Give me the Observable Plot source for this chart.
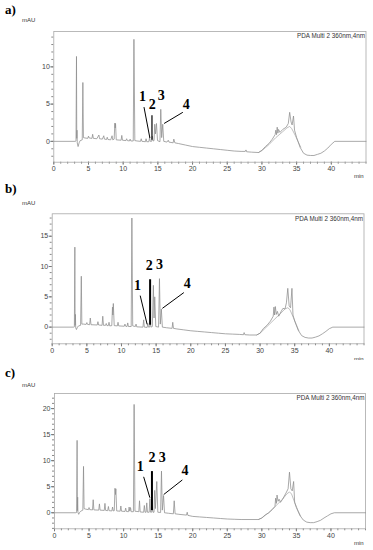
<!DOCTYPE html>
<html>
<head>
<meta charset="utf-8">
<script src="https://cdn.jsdelivr.net/npm/d3@7"></script>
<script src="https://cdn.jsdelivr.net/npm/@observablehq/plot@0.6"></script>
<style>
  html, body { margin: 0; padding: 0; background: #fff; }
  #wrap { position: relative; width: 373px; height: 550px; overflow: hidden; font-family: "Liberation Sans", Arial, sans-serif; }
  .panel { position: absolute; left: 0; width: 373px; }
  .tag { position: absolute; font-family: "Liberation Serif", "DejaVu Serif", serif; font-weight: bold; font-size: 13px; line-height: 1; color: #000; }
  .unit { position: absolute; font-size: 6px; line-height: 1; color: #333; }
</style>
</head>
<body>
<div id="wrap"></div>
<script>
// ---- data: [time (min), signal (mAU)] ----
const traceA = [[0,0],[3.1,0],[3.2,0.05],[3.27,11.4],[3.31,0.4],[3.34,1.5],[3.38,-0.2],[3.5,-0.7],[3.65,-0.2],[3.8,0.1],[4.1,0.2],[4.19,7.9],[4.27,0.5],[4.5,0.45],
[4.9,0.4],[5.0,0.7],[5.1,0.45],[5.5,0.4],[5.6,0.95],[5.7,0.4],[6.2,0.35],[6.5,0.85],[6.6,0.35],[7.0,0.3],[7.2,0.75],[7.3,0.3],[7.6,0.25],[7.7,0.55],[7.8,0.25],[8.2,0.2],[8.4,0.75],[8.5,0.2],[8.7,0.3],[8.8,2.45],[8.85,1.8],[8.9,2.4],[9.0,0.2],[9.7,0.15],[9.8,0.8],[9.9,0.15],[10.4,0.1],[10.5,0.35],[10.6,0.1],[10.9,0.05],[11.0,0.3],[11.1,0.05],[11.45,0.05],[11.55,13.7],[11.68,0.1],[12.0,0.05],[12.5,0.0],[12.6,0.35],[12.7,0.0],[13.2,-0.05],[13.3,0.35],[13.4,-0.05],[13.7,-0.05],[13.8,0.5],[13.9,0],[14.1,0],[14.2,0.7],[14.3,0.05],[14.45,0.1],[14.55,2.3],[14.65,1.0],[14.8,2.4],[14.95,0.1],[15.3,-0.05],[15.42,4.3],[15.55,0.5],[15.7,2.3],[15.85,0.0],[16.3,-0.1],[16.5,0.15],[16.6,-0.1],[17.2,-0.2],[17.3,0.3],[17.45,-0.2],[18,-0.3],[19,-0.5],[20,-0.7],[21,-0.8],[22,-0.9],[23,-1.0],[24,-1.1],[25,-1.2],[26,-1.3],[27,-1.35],[27.6,-1.35],[27.7,-1.15],[27.8,-1.4],[28.5,-1.45],[29.5,-1.5],[30,-1.2],[30.5,-0.7],[31,-0.3],[31.5,0.3],[31.9,0.9],[32.0,1.5],[32.1,0.9],[32.2,1.9],[32.3,1.1],[32.4,1.6],[32.6,1.2],[33,1.6],[33.5,1.9],[33.8,2.4],[34.0,3.9],[34.2,2.6],[34.35,2.2],[34.55,3.4],[34.7,1.5],[35,0.5],[35.5,-0.8],[36,-1.6],[36.5,-1.85],[37,-1.9],[37.5,-1.9],[38,-1.75],[38.5,-1.6],[39,-1.3],[39.5,-0.9],[40,-0.4],[40.5,0],[45,0]];
const blankA = [[29.5,-1.5],[30,-1.25],[31,-0.45],[32,0.5],[33,1.3],[33.6,1.8],[34.0,2.0],[34.3,1.7],[34.8,0.8],[35.2,0.0],[35.6,-0.8]];

const traceB = [[0,0],[3.1,0],[3.2,0.05],[3.27,13.2],[3.31,0.3],[3.35,2.1],[3.39,-0.1],[3.5,-0.4],[3.65,0],[3.8,0.2],[4.1,0.3],[4.2,8.4],[4.28,0.5],[4.5,0.5],[4.9,0.45],[5.0,0.75],[5.1,0.45],[5.4,0.4],[5.5,1.5],[5.6,0.4],[6.5,0.35],[6.6,0.9],[6.7,0.35],[7.2,0.3],[7.3,1.8],[7.4,0.3],[7.7,0.3],[7.8,0.6],[7.9,0.25],[8.1,0.25],[8.2,0.8],[8.3,0.2],[8.6,0.25],[8.7,3.3],[8.75,2.0],[8.82,3.9],[8.95,0.25],[9.4,0.2],[9.5,0.8],[9.6,0.2],[10.4,0.15],[10.5,0.5],[10.6,0.15],[10.8,0.1],[10.9,0.7],[11.0,0.1],[11.4,0.1],[11.5,18.0],[11.62,0.2],[12.0,0.1],[12.1,0.5],[12.2,0.05],[13.1,0],[13.2,1.2],[13.3,0],[13.7,-0.05],[13.8,0.6],[13.9,0],[14.05,0],[14.15,0.8],[14.25,0],[14.45,0.1],[14.6,6.9],[14.7,1.5],[14.8,5.0],[14.95,0.1],[15.35,0],[15.48,8.0],[15.6,0.5],[15.75,3.0],[15.9,0],[16.5,-0.1],[17.3,-0.2],[17.4,0.8],[17.5,-0.2],[18,-0.3],[19,-0.45],[20,-0.6],[21,-0.7],[22,-0.8],[23,-0.9],[24,-1.0],[25,-1.1],[26,-1.15],[27,-1.2],[27.6,-1.25],[27.7,-0.9],[27.8,-1.25],[28.5,-1.3],[29.5,-1.3],[30,-1.0],[30.3,-0.5],[30.5,-0.2],[31,0.3],[31.5,1.0],[31.9,1.8],[32.0,3.3],[32.1,2.0],[32.2,3.4],[32.35,2.1],[32.5,2.6],[32.7,1.8],[33,2.5],[33.3,3.1],[33.6,3.0],[33.8,4.0],[34.0,6.4],[34.2,3.5],[34.4,3.2],[34.6,6.4],[34.75,2.0],[35,1.0],[35.5,-0.5],[36,-1.4],[36.5,-1.7],[37,-1.8],[37.5,-1.8],[38,-1.65],[38.5,-1.45],[39,-1.1],[39.5,-0.7],[40,-0.25],[40.5,0],[45,0]];
const blankB = [[29.5,-1.3],[30,-1.0],[31,0.1],[32,1.2],[33,2.3],[33.6,3.0],[34.0,3.2],[34.3,2.9],[34.8,1.6],[35.2,0.5],[35.6,-0.6]];

const traceC = [[0,0],[3.1,0],[3.2,0.05],[3.27,13.9],[3.31,0.4],[3.35,3.0],[3.39,0.1],[3.5,-0.3],[3.65,0.1],[3.8,0.3],[4.1,0.5],[4.2,8.9],[4.28,0.8],[4.5,0.7],[4.9,0.6],[5.0,1.0],[5.1,0.6],[5.5,0.55],[5.6,2.5],[5.7,0.55],[6.4,0.5],[6.5,1.7],[6.6,0.5],[7.2,0.45],[7.3,1.8],[7.4,0.45],[7.7,0.4],[7.8,1.2],[7.9,0.4],[8.3,0.35],[8.4,1.1],[8.5,0.35],[8.65,0.4],[8.75,4.7],[8.82,3.5],[8.88,4.6],[9.0,0.35],[9.5,0.3],[9.6,1.3],[9.7,0.3],[10.2,0.25],[10.3,0.9],[10.4,0.25],[10.7,0.2],[10.8,1.1],[10.9,0.3],[11.0,1.0],[11.1,0.2],[11.42,0.2],[11.52,20.8],[11.64,0.3],[12.2,0.2],[12.3,2.3],[12.4,0.15],[12.9,0.1],[13.0,1.4],[13.1,0.1],[13.25,0.1],[13.35,1.9],[13.45,0.1],[13.7,0.1],[13.8,2.7],[13.9,0.1],[14.05,0.1],[14.15,1.2],[14.25,0.1],[14.4,0.1],[14.5,4.3],[14.6,0.8],[14.8,6.0],[14.95,0.1],[15.35,0.05],[15.48,8.0],[15.6,0.5],[15.78,3.3],[15.92,0],[16.5,-0.1],[17.2,-0.2],[17.32,2.3],[17.45,-0.2],[18,-0.3],[19.1,-0.45],[19.2,0.1],[19.3,-0.5],[20,-0.7],[21,-0.8],[22,-0.9],[23,-1.0],[24,-1.1],[25,-1.2],[26,-1.25],[27,-1.3],[28,-1.3],[29.5,-1.3],[30,-1.0],[30.5,-0.4],[31,0.0],[31.5,0.6],[31.9,1.2],[32.0,2.8],[32.1,1.8],[32.2,3.4],[32.35,2.2],[32.5,2.6],[32.7,2.0],[33,2.6],[33.5,3.8],[33.8,4.6],[34.0,7.8],[34.2,4.6],[34.4,4.2],[34.6,6.0],[34.75,2.0],[35,1.0],[35.5,-0.5],[36,-1.4],[36.5,-1.8],[37,-1.9],[37.5,-1.9],[38,-1.7],[38.5,-1.45],[39,-1.0],[39.5,-0.6],[40,-0.2],[40.5,0],[45,0]];
const blankC = [[29.5,-1.3],[30,-1.0],[31,0.0],[32,1.3],[33,2.6],[33.6,3.6],[34.0,4.0],[34.3,3.6],[34.8,1.8],[35.2,0.5],[35.6,-0.6]];

// peak labels [time, mAU, text] and leader lines [t1, v1, t2, v2, width]
const labelsA = [[12.8,5.4,"1"],[14.2,4.3,"2"],[15.5,5.5,"3"],[19.1,4.3,"4"]];
const leadersA = [[13.0,4.6,13.85,0.45,1],[14.15,3.5,14.15,0.2,1.2],[18.6,3.9,15.9,2.4,1]];
const labelsB = [[12.3,6.2,"1"],[14.0,9.4,"2"],[15.5,9.6,"3"],[19.5,6.4,"4"]];
const leadersB = [[12.7,5.2,13.7,0.45,1],[14.13,7.9,14.13,0.4,2],[19.0,5.7,15.9,3.1,1]];
const labelsC = [[12.4,8.1,"1"],[14.1,9.7,"2"],[15.6,9.8,"3"],[18.9,7.2,"4"]];
const leadersC = [[12.9,6.9,13.8,2.9,1],[14.1,8.0,14.1,0.5,2],[18.5,6.3,15.8,3.5,1]];

const xMajor = [0,5,10,15,20,25,30,35,40];
const xMinor = d3.range(0, 46, 1);
const yMajorA = [0,5,10];
const yMajorB = [0,5,10,15];
const yMajorC = [0,5,10,15,20];
const detector = "PDA Multi 2 360nm,4nm";
const yUnit = "mAU";
const xUnit = "min";
const tags = ["a)", "b)", "c)"];

const panels = [
  {tag: tags[0], top: 0, height: 180, mt: 31, mb: 18.3, ml: 53.3, mr: 7.5, yDom: [-2.8, 14.75], yMaj: yMajorA,
   trace: traceA, blank: blankA, labels: labelsA, leaders: leadersA, tagY: 3, unitY: 17, minY: 173},
  {tag: tags[1], top: 180, height: 180, mt: 33.3, mb: 16.7, ml: 51.7, mr: 9.5, yDom: [-2.75, 18.7], yMaj: yMajorB,
   trace: traceB, blank: blankB, labels: labelsB, leaders: leadersB, tagY: 2, unitY: 20, minY: 176},
  {tag: tags[2], top: 360, height: 190, mt: 33, mb: 21.7, ml: 54, mr: 8, yDom: [-3.08, 22.9], yMaj: yMajorC,
   trace: traceC, blank: blankC, labels: labelsC, leaders: leadersC, tagY: 6, unitY: 22, minY: 180}
];

const wrap = document.getElementById("wrap");
const lineColor = "#8c8c8c";

for (const p of panels) {
  const yMinor = d3.range(Math.ceil(p.yDom[0]), Math.floor(p.yDom[1]) + 1, 1);
  const chart = Plot.plot({
    width: 373,
    height: p.height,
    marginTop: p.mt, marginBottom: p.mb, marginLeft: p.ml, marginRight: p.mr,
    style: {fontFamily: "'Liberation Sans', Arial, sans-serif", fontSize: "7px", color: "#444", background: "#fff"},
    x: {domain: [0, 45]},
    y: {domain: p.yDom},
    marks: [
      Plot.axisX({ticks: xMinor, tickSize: 2, tickFormat: () => "", label: null, stroke: "#888"}),
      Plot.axisX({ticks: xMajor, tickSize: 3, tickPadding: 1.2, label: null, stroke: "#777"}),
      Plot.axisY({ticks: yMinor, tickSize: 2, tickFormat: () => "", label: null, stroke: "#888"}),
      Plot.axisY({ticks: p.yMaj, tickSize: 3, tickPadding: 1, label: null, stroke: "#777"}),
      Plot.frame({stroke: "#a8a8a8", strokeWidth: 0.8}),
      Plot.line(p.blank, {x: d => d[0], y: d => d[1], stroke: "#a5a5a5", strokeWidth: 0.7}),
      Plot.line(p.trace, {x: d => d[0], y: d => d[1], stroke: lineColor, strokeWidth: 0.75}),
      Plot.link(p.leaders, {x1: d => d[0], y1: d => d[1], x2: d => d[2], y2: d => d[3], stroke: "#000", strokeWidth: d => d[4]}),
      Plot.text(p.labels, {x: d => d[0], y: d => d[1], text: d => d[2], fontFamily: "'Liberation Serif', serif", fontWeight: "bold", fontSize: 14, fill: "#000", lineAnchor: "bottom"}),
      Plot.text([detector], {frameAnchor: "top-right", dx: -1, dy: 2.5, fontSize: 6.3, fill: "#333", lineAnchor: "top"})
    ]
  });
  const div = document.createElement("div");
  div.className = "panel";
  div.style.top = p.top + "px";
  div.style.height = p.height + "px";
  div.appendChild(chart);
  const tag = document.createElement("div");
  tag.className = "tag"; tag.textContent = p.tag;
  tag.style.left = "5px"; tag.style.top = p.tagY + "px";
  div.appendChild(tag);
  const unit = document.createElement("div");
  unit.className = "unit"; unit.textContent = yUnit;
  unit.style.left = "22px"; unit.style.top = p.unitY + "px";
  div.appendChild(unit);
  const mn = document.createElement("div");
  mn.className = "unit"; mn.textContent = xUnit;
  mn.style.left = "354px"; mn.style.top = p.minY + "px";
  div.appendChild(mn);
  wrap.appendChild(div);
}
</script>
</body>
</html>
